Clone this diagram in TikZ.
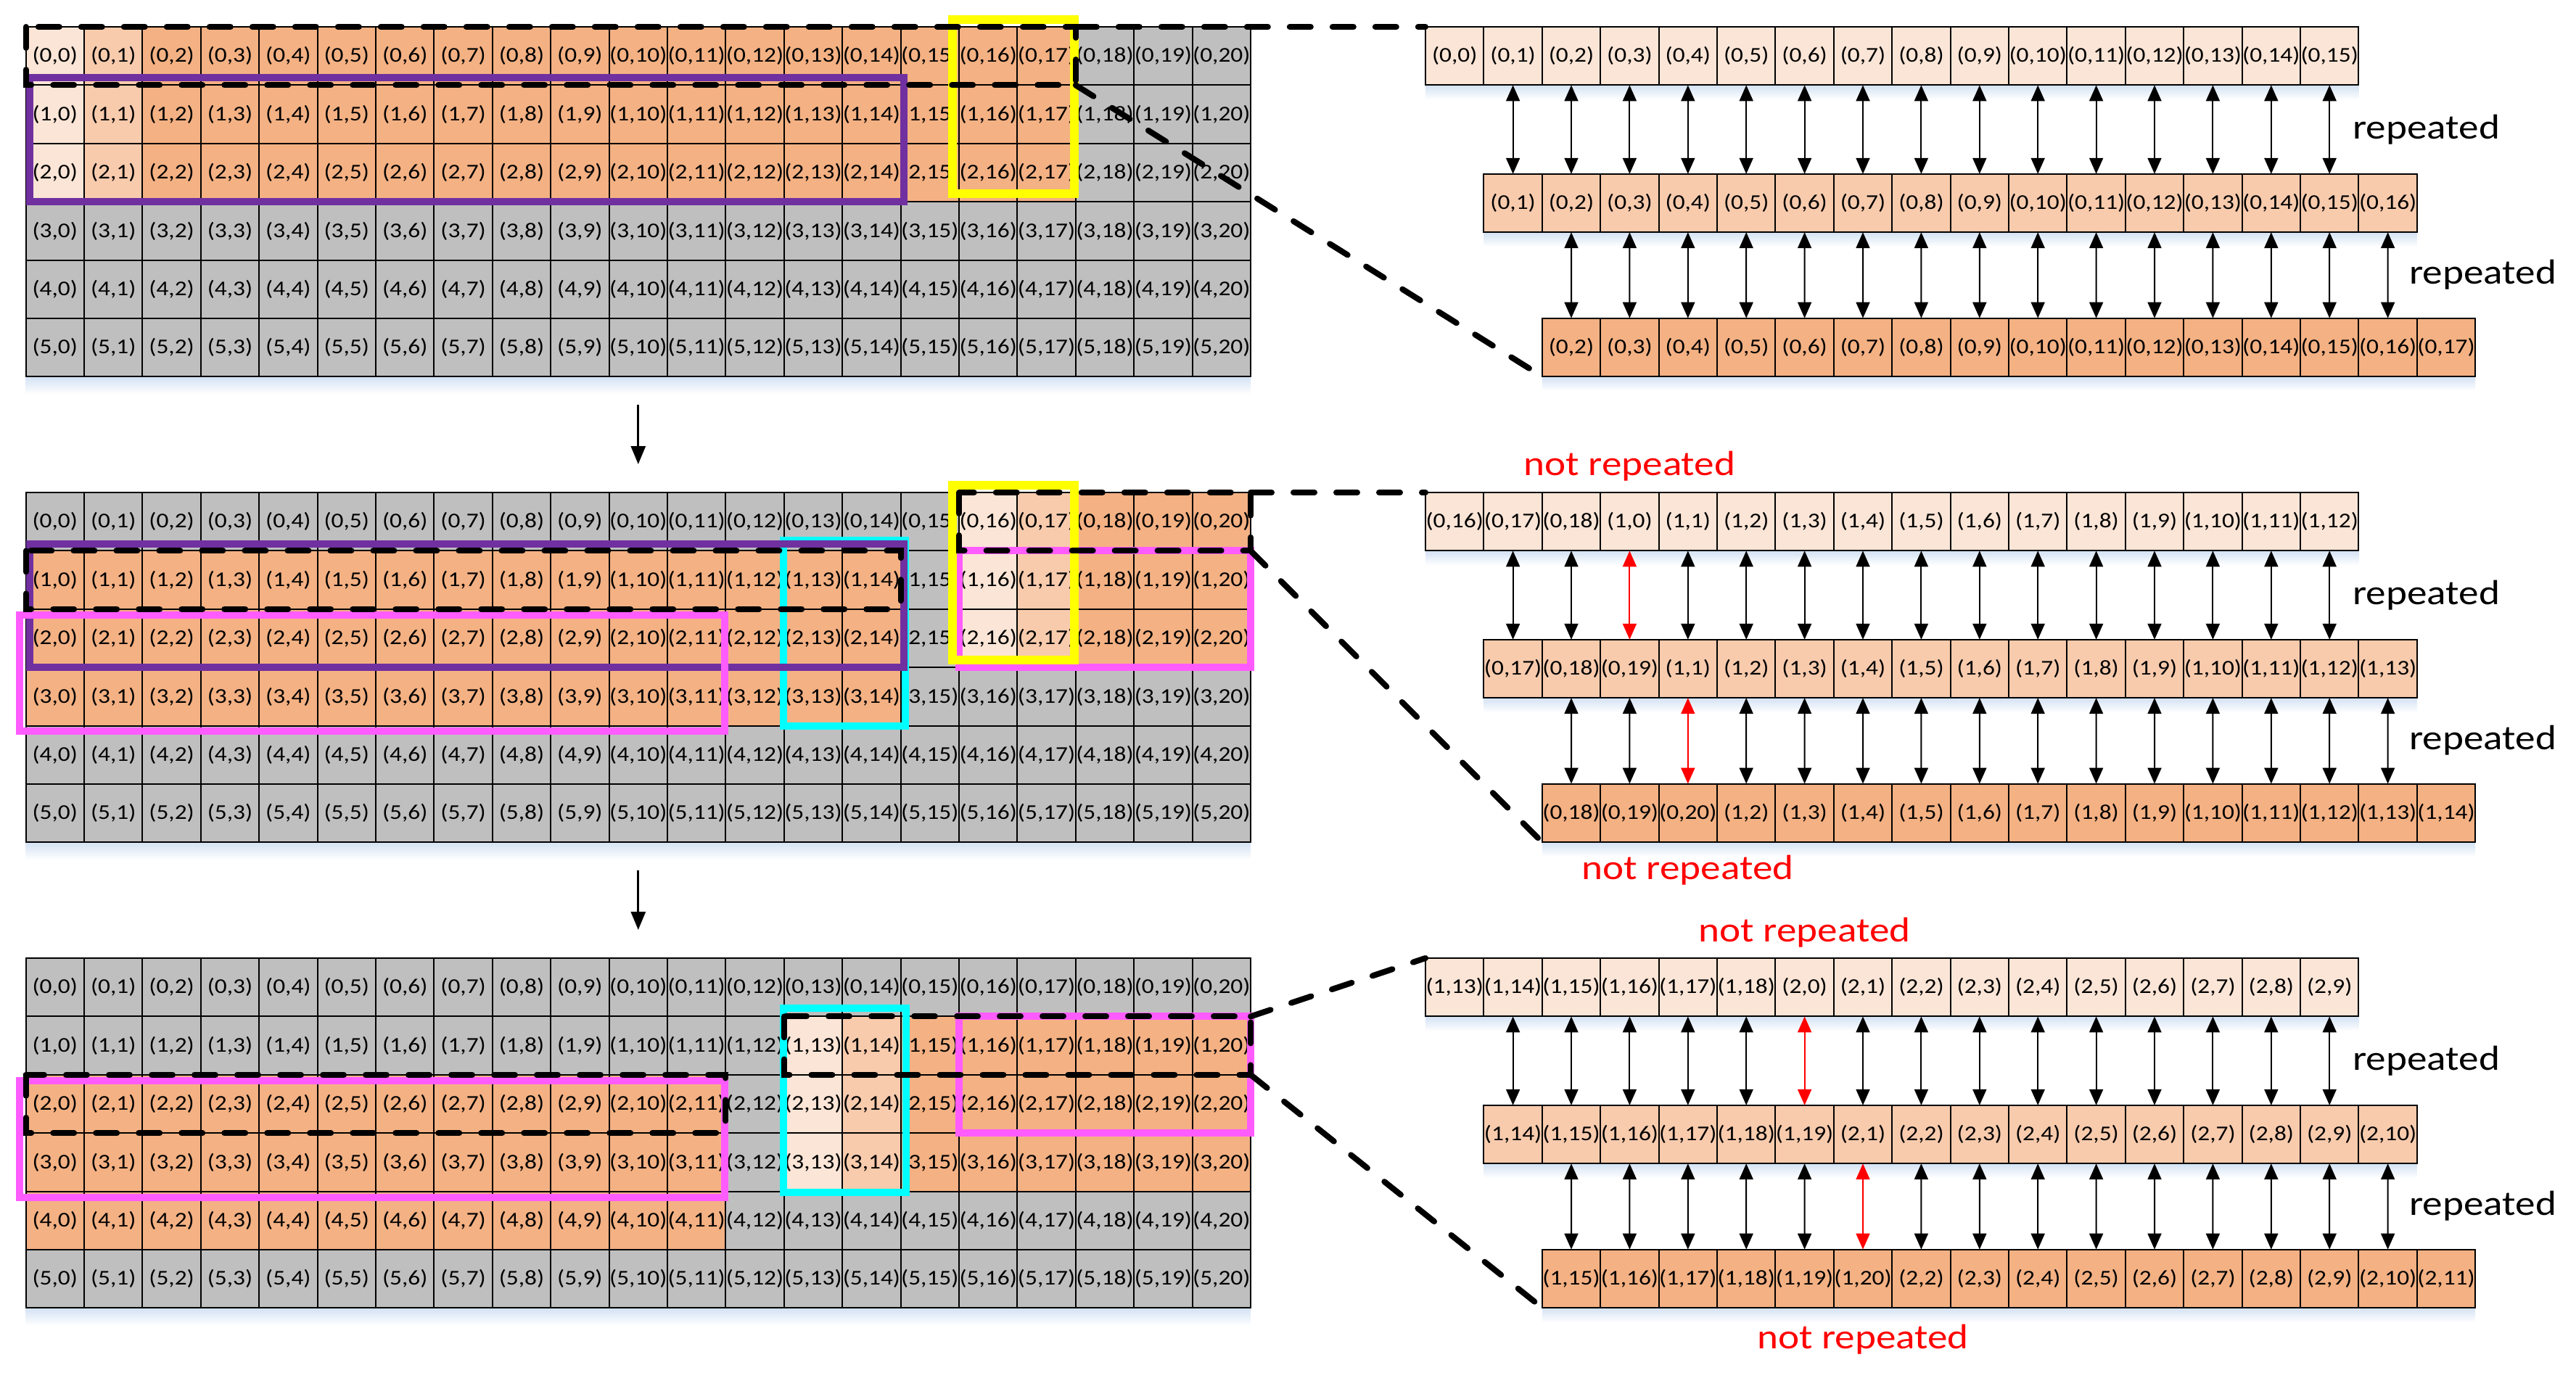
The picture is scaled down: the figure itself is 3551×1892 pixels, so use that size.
\documentclass[tikz,border=0pt]{standalone}
\usepackage{fontspec}
\setmainfont{Carlito}
\newfontfamily\cellfont[FakeStretch=1.15]{Carlito}
\newfontfamily\labfont[FakeStretch=1.15]{Carlito}
\usetikzlibrary{arrows.meta}
\definecolor{cL}{HTML}{FBE5D6}
\definecolor{cM}{HTML}{F8CBAD}
\definecolor{cD}{HTML}{F4B183}
\definecolor{cG}{HTML}{BFBFBF}
\definecolor{cPur}{HTML}{7030A0}
\definecolor{cYel}{HTML}{FFFF00}
\definecolor{cPnk}{HTML}{FF5CFF}
\definecolor{cCya}{HTML}{00FFFF}
\definecolor{cShd}{HTML}{D5E3F4}
\definecolor{cRed}{HTML}{FF0000}

\newcommand\pickcolor[3]{%
 \def\cellc{cG}%
 \ifcase#1\relax\or
  \ifnum#2<3 \ifnum#3=0 \def\cellc{cL}\else\ifnum#3=1 \def\cellc{cM}\else\ifnum#3<18 \def\cellc{cD}\fi\fi\fi\fi
 \or
  \ifnum#2=0 \ifnum#3=16 \def\cellc{cL}\else\ifnum#3=17 \def\cellc{cM}\else\ifnum#3>17 \def\cellc{cD}\fi\fi\fi\fi
  \ifnum#2>0 \ifnum#2<3 \ifnum#3<15 \def\cellc{cD}\else\ifnum#3=16 \def\cellc{cL}\else\ifnum#3=17 \def\cellc{cM}\else\ifnum#3>17 \def\cellc{cD}\fi\fi\fi\fi\fi\fi
  \ifnum#2=3 \ifnum#3<15 \def\cellc{cD}\fi\fi
 \or
  \ifnum#2=1 \ifnum#3=13 \def\cellc{cL}\else\ifnum#3=14 \def\cellc{cM}\else\ifnum#3>14 \def\cellc{cD}\fi\fi\fi\fi
  \ifnum#2>1 \ifnum#2<4 \ifnum#3<12 \def\cellc{cD}\else\ifnum#3=13 \def\cellc{cL}\else\ifnum#3=14 \def\cellc{cM}\else\ifnum#3>14 \def\cellc{cD}\fi\fi\fi\fi\fi\fi
  \ifnum#2=4 \ifnum#3<12 \def\cellc{cD}\fi\fi
 \fi}

\newcommand\rowcells[5]{%
 \foreach \t [count=\i from 0] in {#5}{%
   \node[cell=#4] (#1-\i) at ({#2+(\i+0.5)*80.4},{#3+40.2}) {\t};}}

\begin{document}
\begin{tikzpicture}[x=0.5pt,y=-0.5pt,
 cell/.style={draw=black,line width=1pt,fill=#1,minimum width=40.2pt,minimum height=40.2pt,inner sep=0pt,outer sep=0pt,font=\cellfont\fontsize{14.5}{17}\selectfont},
 dbl/.style={line width=1pt,{Triangle[length=11pt,width=9.5pt]}-{Triangle[length=11pt,width=9.5pt]}},
 downarr/.style={line width=1.5pt,-{Triangle[length=12.5pt,width=10pt]}},
 zoomline/.style={line width=4pt,dash pattern=on 14.5pt off 15pt,line cap=round},
 hl/.style={line width=5pt,draw=#1},
 replab/.style={font=\labfont\fontsize{24}{28}\selectfont,inner sep=0pt},
 nrlab/.style={replab,text=cRed},
 softshd/.style={top color=cShd,bottom color=white,draw=none}
]
\useasboundingbox (0,0) rectangle (3551,1892);

% ---------- grids ----------
\foreach \p/\T in {1/37,2/679,3/1321}{
  \foreach \r in {0,...,5}{
    \foreach \c in {0,...,20}{
      \pickcolor{\p}{\r}{\c}
      \node[cell=\cellc] (g\p-\r-\c) at ({35.6+(\c+0.5)*80.4},{\T+(\r+0.5)*80.4}) {(\r,\c)};
    }
  }
  \shade[softshd] ([yshift=-0.5pt]g\p-5-0.south west) rectangle ([yshift=-12pt]g\p-5-20.south east);
}

% ---------- right rows ----------
\rowcells{t1}{1965}{37}{cL}{{(0,0)},{(0,1)},{(0,2)},{(0,3)},{(0,4)},{(0,5)},{(0,6)},{(0,7)},{(0,8)},{(0,9)},{(0,10)},{(0,11)},{(0,12)},{(0,13)},{(0,14)},{(0,15)}}
\rowcells{m1}{2045.4}{239.8}{cM}{{(0,1)},{(0,2)},{(0,3)},{(0,4)},{(0,5)},{(0,6)},{(0,7)},{(0,8)},{(0,9)},{(0,10)},{(0,11)},{(0,12)},{(0,13)},{(0,14)},{(0,15)},{(0,16)}}
\rowcells{b1}{2125.8}{438.6}{cD}{{(0,2)},{(0,3)},{(0,4)},{(0,5)},{(0,6)},{(0,7)},{(0,8)},{(0,9)},{(0,10)},{(0,11)},{(0,12)},{(0,13)},{(0,14)},{(0,15)},{(0,16)},{(0,17)}}

\rowcells{t2}{1965}{679}{cL}{{(0,16)},{(0,17)},{(0,18)},{(1,0)},{(1,1)},{(1,2)},{(1,3)},{(1,4)},{(1,5)},{(1,6)},{(1,7)},{(1,8)},{(1,9)},{(1,10)},{(1,11)},{(1,12)}}
\rowcells{m2}{2045.4}{881.8}{cM}{{(0,17)},{(0,18)},{(0,19)},{(1,1)},{(1,2)},{(1,3)},{(1,4)},{(1,5)},{(1,6)},{(1,7)},{(1,8)},{(1,9)},{(1,10)},{(1,11)},{(1,12)},{(1,13)}}
\rowcells{b2}{2125.8}{1080.6}{cD}{{(0,18)},{(0,19)},{(0,20)},{(1,2)},{(1,3)},{(1,4)},{(1,5)},{(1,6)},{(1,7)},{(1,8)},{(1,9)},{(1,10)},{(1,11)},{(1,12)},{(1,13)},{(1,14)}}

\rowcells{t3}{1965}{1321}{cL}{{(1,13)},{(1,14)},{(1,15)},{(1,16)},{(1,17)},{(1,18)},{(2,0)},{(2,1)},{(2,2)},{(2,3)},{(2,4)},{(2,5)},{(2,6)},{(2,7)},{(2,8)},{(2,9)}}
\rowcells{m3}{2045.4}{1523.8}{cM}{{(1,14)},{(1,15)},{(1,16)},{(1,17)},{(1,18)},{(1,19)},{(2,1)},{(2,2)},{(2,3)},{(2,4)},{(2,5)},{(2,6)},{(2,7)},{(2,8)},{(2,9)},{(2,10)}}
\rowcells{b3}{2125.8}{1722.6}{cD}{{(1,15)},{(1,16)},{(1,17)},{(1,18)},{(1,19)},{(1,20)},{(2,2)},{(2,3)},{(2,4)},{(2,5)},{(2,6)},{(2,7)},{(2,8)},{(2,9)},{(2,10)},{(2,11)}}

\foreach \p in {1,2,3}{
  \foreach \rw in {t,m,b}{
    \shade[softshd] ([yshift=-0.5pt]\rw\p-0.south west) rectangle ([yshift=-10pt]\rw\p-15.south east);
  }
}

% ---------- double arrows ----------
\foreach \p/\ri in {1/0,2/3,3/6}{
  \foreach \i in {1,...,15}{
    \pgfmathtruncatemacro\j{\i-1}
    \ifnum\i=\ri \def\ac{cRed}\else\def\ac{black}\fi
    \draw[dbl,draw=\ac] (t\p-\i.south) -- (m\p-\j.north);
    \draw[dbl,draw=\ac] (m\p-\i.south) -- (b\p-\j.north);
  }
}

% ---------- coloured highlight boxes ----------
% panel 1
\draw[hl=cPur] (41,107) rectangle (1246,278);
\draw[hl=cYel,line width=6pt] (1313,27) rectangle (1481,267);
% panel 2
\draw[hl=cCya] (1080,745) rectangle (1248,1001);
\draw[hl=cPur] (41,750) rectangle (1246,920);
\draw[hl=cPnk] (27,848) rectangle (999,1008);
\draw[hl=cPnk] (g2-1-16.north west) rectangle (g2-2-20.south east);
\draw[hl=cYel,line width=6pt] (1313,669) rectangle (1481,910);
% panel 3
\draw[hl=cCya] (1080,1390) rectangle (1249,1644);
\draw[hl=cPnk] (27,1490) rectangle (999,1651);
\draw[hl=cPnk] (g3-1-16.north west) rectangle (g3-2-20.south east);

% ---------- black dashed windows and zoom lines ----------
\draw[zoomline] (g1-0-0.north west) rectangle (g1-0-17.south east);
\draw[zoomline] (g1-0-17.north east) -- (t1-0.north west);
\draw[zoomline] (g1-0-17.south east) -- (b1-0.south west);

\draw[zoomline] (g2-1-0.north west) rectangle (g2-1-14.south east);
\draw[zoomline] (g2-0-16.north west) rectangle (g2-0-20.south east);
\draw[zoomline] (g2-0-20.north east) -- (t2-0.north west);
\draw[zoomline] (g2-0-20.south east) -- (b2-0.south west);

\draw[zoomline] (g3-2-0.north west) rectangle (g3-2-11.south east);
\draw[zoomline] (g3-1-13.north west) rectangle (g3-1-20.south east);
\draw[zoomline] (g3-1-20.north east) -- (t3-0.north west);
\draw[zoomline] (g3-1-20.south east) -- (b3-0.south west);

% ---------- labels ----------
\foreach \p/\T in {1/37,2/679,3/1321}{
  \node[replab,anchor=west] (rA\p) at (3243,\T+142) {repeated};
  \node[replab,anchor=west] (rB\p) at (3321,\T+342) {repeated};
}
\node[nrlab] (nr2a) at ([yshift=18pt]t2-3.north) {not repeated};
\node[nrlab] (nr2b) at ([yshift=-19.5pt]b2-2.south) {not repeated};
\node[nrlab] (nr3a) at ([yshift=17.5pt]t3-6.north) {not repeated};
\node[nrlab] (nr3b) at ([yshift=-22pt]b3-5.south) {not repeated};

% ---------- step arrows ----------
\draw[downarr] ([yshift=-19.5pt]g1-5-10.south) -- ([yshift=19.5pt]g2-0-10.north);
\draw[downarr] ([yshift=-19.5pt]g2-5-10.south) -- ([yshift=19.5pt]g3-0-10.north);
\end{tikzpicture}
\end{document}
